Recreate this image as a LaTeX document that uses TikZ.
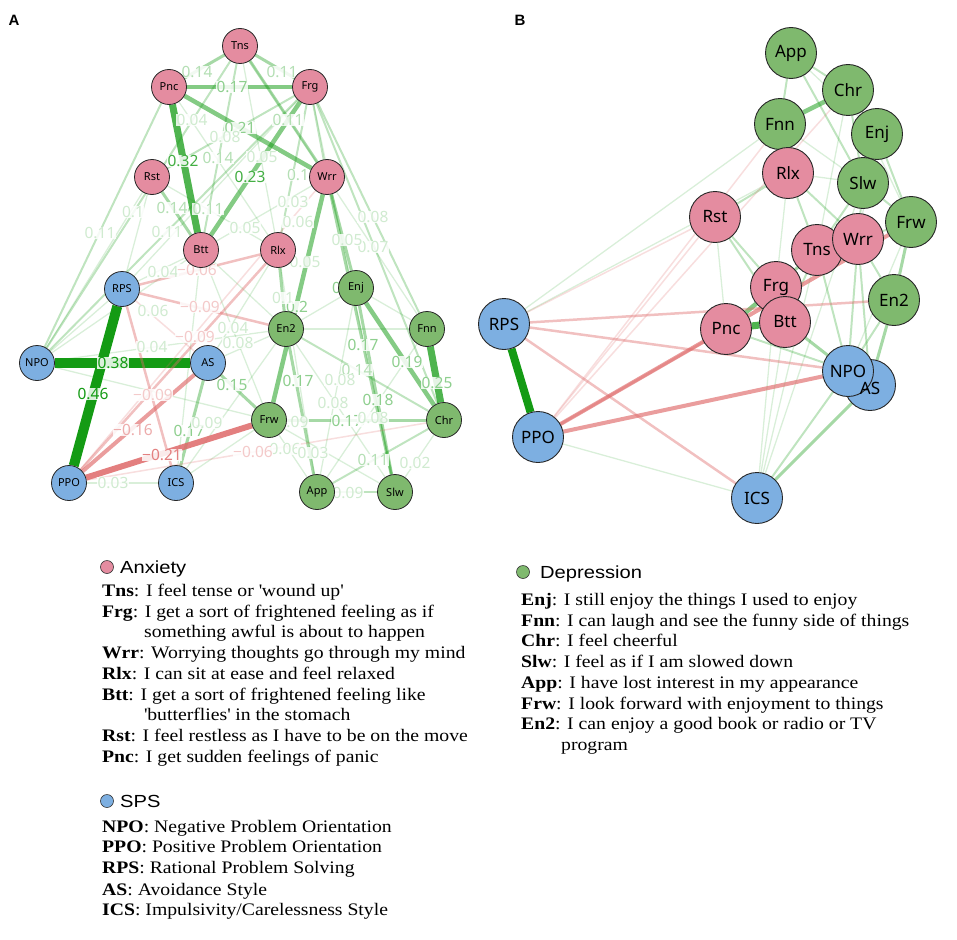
\documentclass[tikz,border=0pt]{standalone}
\usepackage{fontspec}
\setmainfont{Liberation Serif}
\newfontfamily\legserif[FakeStretch=1.12]{Liberation Serif}
\newfontfamily\legsans[FakeStretch=1.15]{Liberation Sans}
\newfontfamily\nodefont{Noto Sans}
\newfontfamily\panelfont{Liberation Sans}
\definecolor{pinkN}{RGB}{228,140,160}
\definecolor{blueN}{RGB}{125,175,225}
\definecolor{greenN}{RGB}{127,185,110}
\definecolor{eG}{RGB}{20,155,20}
\definecolor{eR}{RGB}{222,105,105}
\pgfdeclarelayer{edges}
\pgfdeclarelayer{labels}
\pgfsetlayers{edges,labels,main}
\tikzset{
 nA/.style={circle, draw=black!85, line width=0.8pt, minimum size=35pt, inner sep=0pt, font=\nodefont\fontsize{11}{12}\selectfont},
 nB/.style={circle, draw=black!85, line width=0.9pt, minimum size=51pt, inner sep=0pt, font=\nodefont\fontsize{17}{20}\selectfont},
 anx/.style={fill=pinkN}, sps/.style={fill=blueN}, dep/.style={fill=greenN},
 g1/.style={draw=eG, draw opacity=0.16, line width=1.3pt},
 g2/.style={draw=eG, draw opacity=0.27, line width=2pt},
 g3/.style={draw=eG, draw opacity=0.38, line width=3pt},
 g4/.style={draw=eG, draw opacity=0.52, line width=4.5pt},
 g5/.style={draw=eG, draw opacity=0.75, line width=7pt},
 g6/.style={draw=eG, line width=10pt},
 r1/.style={draw=eR, draw opacity=0.22, line width=1.5pt},
 r2/.style={draw=eR, draw opacity=0.42, line width=2.5pt},
 r3/.style={draw=eR, draw opacity=0.65, line width=4pt},
 r4/.style={draw=eR, draw opacity=0.85, line width=6pt},
 lab/.style={font=\nodefont\fontsize{15.5}{16}\selectfont, fill=white, fill opacity=0.85, text opacity=1, inner sep=0.3pt},
 l1/.style={lab, text=eG!20},
 l2/.style={lab, text=eG!32},
 l3/.style={lab, text=eG!48},
 l4/.style={lab, text=eG!80},
 l5/.style={lab, text=eG},
 lr1/.style={lab, text=eR!35},
 lr2/.style={lab, text=eR!55},
 lr3/.style={lab, text=eR!85},
 legtxt/.style={anchor=base west, inner sep=0pt, font=\legserif\fontsize{17.6}{20}\selectfont},
 leghead/.style={anchor=base west, inner sep=0pt, font=\legsans\fontsize{17.5}{20}\selectfont},
 legdot/.style={circle, draw=black!80, line width=0.6pt, minimum size=13pt, inner sep=0pt},
 panel/.style={font=\panelfont\bfseries\fontsize{15}{16}\selectfont, inner sep=0pt}
}
\begin{document}
\begin{tikzpicture}[x=1pt,y=-1pt]
\useasboundingbox (0,0) rectangle (957,939);
\node[panel] (pA) at (14,20) {A};
\node[panel] (pB) at (520,20) {B};
% ---------------- Panel A nodes ----------------
\node[nA,anx] (Tns) at (240,46) {Tns};
\node[nA,anx] (Pnc) at (169,87) {Pnc};
\node[nA,anx] (Frg) at (310,87) {Frg};
\node[nA,anx] (Rst) at (152,177) {Rst};
\node[nA,anx] (Wrr) at (327,177) {Wrr};
\node[nA,anx] (Btt) at (201,250) {Btt};
\node[nA,anx] (Rlx) at (278,250) {Rlx};
\node[nA,sps] (RPS) at (122,289) {RPS};
\node[nA,dep] (Enj) at (356,288) {Enj};
\node[nA,dep] (En2) at (286,329) {En2};
\node[nA,dep] (Fnn) at (427,329) {Fnn};
\node[nA,sps] (NPO) at (37,363) {NPO};
\node[nA,sps] (AS) at (208,363) {AS};
\node[nA,dep] (Frw) at (269,420) {Frw};
\node[nA,dep] (Chr) at (444,420) {Chr};
\node[nA,sps] (PPO) at (69,483) {PPO};
\node[nA,sps] (ICS) at (176,483) {ICS};
\node[nA,dep] (App) at (317,492) {App};
\node[nA,dep] (Slw) at (395,492) {Slw};
\begin{pgfonlayer}{edges}
\draw[g3] (Tns) -- (Pnc);
\draw[g3] (Tns) -- (Frg);
\draw[g4] (Pnc) -- (Frg);
\draw[g4] (Pnc) -- (Wrr);
\draw[g5] (Pnc) -- (Btt);
\draw[g4] (Frg) -- (Btt);
\draw[g3] (Tns) -- (Wrr);
\draw[g2] (Tns) -- (Btt);
\draw[g1] (Pnc) -- (Rlx);
\draw[g2] (Frg) -- (Rst);
\draw[g1] (Tns) -- (Rlx);
\draw[g2] (Frg) -- (Rlx);
\draw[g3] (Rst) -- (Btt);
\draw[g1] (Wrr) -- (Btt);
\draw[g2] (Frg) -- (Wrr);
\draw[g1] (Rst) -- (Rlx);
\draw[g2] (NPO) -- (Pnc);
\draw[g2] (NPO) -- (Tns);
\draw[g2] (NPO) -- (Frg);
\draw[g1] (NPO) -- (Rst);
\draw[g1] (NPO) -- (Btt);
\draw[g1] (RPS) -- (Rst);
\draw[g1] (RPS) -- (Btt);
\draw[g1] (RPS) -- (Frg);
\draw[g4] (Wrr) -- (Frw);
\draw[g3] (Wrr) -- (Slw);
\draw[g3] (Wrr) -- (Enj);
\draw[g2] (Frg) -- (Fnn);
\draw[g2] (Frg) -- (Chr);
\draw[g1] (Frg) -- (Slw);
\draw[g1] (Tns) -- (Fnn);
\draw[g3] (Rlx) -- (En2);
\draw[g1] (Rlx) -- (App);
\draw[g1] (Btt) -- (En2);
\draw[g1] (Btt) -- (Frw);
\draw[g1] (Btt) -- (ICS);
\draw[g4] (Enj) -- (Chr);
\draw[g5] (Fnn) -- (Chr);
\draw[g3] (Enj) -- (Slw);
\draw[g3] (Frw) -- (Chr);
\draw[g3] (En2) -- (App);
\draw[g2] (App) -- (Slw);
\draw[g2] (En2) -- (Chr);
\draw[g1] (Enj) -- (App);
\draw[g1] (En2) -- (Slw);
\draw[g1] (Fnn) -- (App);
\draw[g2] (Chr) -- (App);
\draw[g1] (Chr) -- (Slw);
\draw[g1] (Frw) -- (Slw);
\draw[g1] (Frw) -- (App);
\draw[g1] (En2) -- (Fnn);
\draw[g1] (Enj) -- (En2);
\draw[g1] (Enj) -- (Fnn);
\draw[g6] (NPO) -- (AS);
\draw[g6] (RPS) -- (PPO);
\draw[g3] (AS) -- (Frw);
\draw[g3] (AS) -- (ICS);
\draw[g1] (NPO) -- (RPS);
\draw[g1] (NPO) -- (Frw);
\draw[g1] (NPO) -- (En2);
\draw[g1] (AS) -- (En2);
\draw[g1] (ICS) -- (Frw);
\draw[g1] (ICS) -- (En2);
\draw[g1] (PPO) -- (ICS);
\draw[g1] (AS) -- (Rlx);
\draw[r4] (PPO) -- (Frw);
\draw[r3] (PPO) -- (AS);
\draw[r2] (PPO) -- (Rlx);
\draw[r2] (RPS) -- (ICS);
\draw[r2] (RPS) -- (En2);
\draw[r2] (RPS) -- (Rlx);
\draw[r1] (PPO) -- (Chr);
\draw[r1] (PPO) -- (Wrr);
\draw[r1] (RPS) -- (AS);
\end{pgfonlayer}
\begin{pgfonlayer}{labels}
\node[l5] (a1) at (113,363) {0.38};
\node[l5] (a2) at (93,394) {0.46};
\node[l4] (a3) at (183,161) {0.32};
\node[l4] (a4) at (250,177) {0.23};
\node[l3] (a5) at (240,128) {0.21};
\node[l3] (a6) at (437,383) {0.25};
\node[l3] (a7) at (297,307) {0.2};
\node[l3] (a8) at (232,87) {0.17};
\node[l3] (a9) at (407,362) {0.19};
\node[l3] (a10) at (363,345) {0.17};
\node[l3] (a11) at (378,400) {0.18};
\node[l3] (a12) at (298,381) {0.17};
\node[l3] (a13) at (232,385) {0.15};
\node[l3] (a14) at (189,431) {0.17};
\node[l3] (a15) at (347,421) {0.17};
\node[l2] (a16) at (357,370) {0.14};
\node[l2] (a17) at (197,72) {0.14};
\node[l2] (a18) at (282,72) {0.11};
\node[l2] (a19) at (288,120) {0.11};
\node[l2] (a20) at (218,158) {0.14};
\node[l2] (a21) at (172,208) {0.14};
\node[l2] (a22) at (208,209) {0.11};
\node[l2] (a23) at (298,175) {0.1};
\node[l1] (a24) at (133,212) {0.1};
\node[l1] (a25) at (100,233) {0.11};
\node[l1] (a26) at (167,232) {0.11};
\node[l1] (a27) at (373,217) {0.08};
\node[l1] (a28) at (373,247) {0.07};
\node[l1] (a29) at (347,240) {0.05};
\node[l2] (a30) at (373,460) {0.11};
\node[l1] (a31) at (348,493) {0.09};
\node[l1] (a32) at (340,380) {0.08};
\node[l1] (a33) at (333,403) {0.08};
\node[l1] (a34) at (373,418) {0.08};
\node[l1] (a35) at (415,463) {0.02};
\node[l1] (a36) at (285,449) {0.06};
\node[l1] (a37) at (313,453) {0.03};
\node[l1] (a38) at (293,422) {0.09};
\node[l1] (a39) at (283,298) {0.1};
\node[l1] (a40) at (192,120) {0.04};
\node[l1] (a41) at (225,137) {0.08};
\node[l1] (a42) at (262,157) {0.05};
\node[l1] (a43) at (293,202) {0.03};
\node[l1] (a44) at (298,222) {0.06};
\node[l1] (a45) at (245,228) {0.05};
\node[l1] (a46) at (153,311) {0.06};
\node[l1] (a47) at (152,347) {0.04};
\node[l1] (a48) at (233,328) {0.04};
\node[l1] (a49) at (238,343) {0.08};
\node[l1] (a50) at (207,423) {0.09};
\node[l1] (a51) at (113,483) {0.03};
\node[l1] (a52) at (305,262) {0.05};
\node[l1] (a53) at (163,272) {0.04};
\node[l3] (a54) at (343,288) {0.1};
\node[lr3] (a55) at (162,455) {−0.21};
\node[lr2] (a56) at (133,430) {−0.16};
\node[lr1] (a57) at (153,395) {−0.09};
\node[lr1] (a58) at (200,307) {−0.09};
\node[lr1] (a59) at (195,337) {−0.09};
\node[lr1] (a60) at (253,452) {−0.06};
\node[lr1] (a61) at (197,270) {−0.06};
\end{pgfonlayer}
% ---------------- Panel B nodes ----------------
\node[nB,dep] (bApp) at (791,53) {App};
\node[nB,dep] (bChr) at (848,90) {Chr};
\node[nB,dep] (bFnn) at (780,124) {Fnn};
\node[nB,dep] (bEnj) at (877,134) {Enj};
\node[nB,anx] (bRlx) at (788,173) {Rlx};
\node[nB,dep] (bSlw) at (863,183) {Slw};
\node[nB,anx] (bRst) at (715,217) {Rst};
\node[nB,dep] (bFrw) at (911,222) {Frw};
\node[nB,anx] (bTns) at (817,250) {Tns};
\node[nB,anx] (bWrr) at (858,239) {Wrr};
\node[nB,anx] (bFrg) at (776,287) {Frg};
\node[nB,dep] (bEn2) at (894,300) {En2};
\node[nB,anx] (bPnc) at (726,329) {Pnc};
\node[nB,anx] (bBtt) at (785,322) {Btt};
\node[nB,sps] (bRPS) at (504,324) {RPS};
\node[nB,sps] (bAS) at (870,385) {};
\node[nB,sps] (bNPO) at (848,371) {NPO};
\node[font=\nodefont\fontsize{17}{20}\selectfont, inner sep=0pt] (bASt) at (870,388) {AS};
\node[nB,sps] (bPPO) at (538,437) {PPO};
\node[nB,sps] (bICS) at (757,498) {ICS};
\begin{pgfonlayer}{edges}
\draw[g6, line width=8pt] (bRPS) -- (bPPO);
\draw[g4] (bChr) -- (bFnn);
\draw[g2] (bApp) -- (bChr);
\draw[g2] (bApp) -- (bFnn);
\draw[g2] (bApp) -- (bSlw);
\draw[g1] (bApp) -- (bEnj);
\draw[g2] (bChr) -- (bEnj);
\draw[g2] (bChr) -- (bSlw);
\draw[g1] (bChr) -- (bFrw);
\draw[g1] (bChr) -- (bTns);
\draw[g2] (bEnj) -- (bSlw);
\draw[g2] (bEnj) -- (bFrw);
\draw[g1] (bEnj) -- (bWrr);
\draw[g1] (bFnn) -- (bRlx);
\draw[g1] (bFnn) -- (bSlw);
\draw[g2] (bSlw) -- (bWrr);
\draw[g2] (bSlw) -- (bFrw);
\draw[g2] (bSlw) -- (bTns);
\draw[g1] (bSlw) -- (bRlx);
\draw[g2] (bFrw) -- (bWrr);
\draw[g3] (bFrw) -- (bEn2);
\draw[g1] (bFrw) -- (bNPO);
\draw[g2] (bRlx) -- (bRst);
\draw[g2] (bRlx) -- (bTns);
\draw[g2] (bRlx) -- (bWrr);
\draw[g1] (bRlx) -- (bFrg);
\draw[g2] (bRst) -- (bFrg);
\draw[g2] (bRst) -- (bBtt);
\draw[g1] (bRst) -- (bPnc);
\draw[g3] (bTns) -- (bWrr);
\draw[g3] (bTns) -- (bFrg);
\draw[g2] (bTns) -- (bBtt);
\draw[g2] (bTns) -- (bNPO);
\draw[g4] (bFrg) -- (bBtt);
\draw[g4] (bFrg) -- (bPnc);
\draw[g5] (bPnc) -- (bBtt);
\draw[g2] (bWrr) -- (bNPO);
\draw[g2] (bWrr) -- (bEn2);
\draw[g2] (bWrr) -- (bAS);
\draw[g3] (bBtt) -- (bNPO);
\draw[g2] (bPnc) -- (bNPO);
\draw[g3] (bEn2) -- (bAS);
\draw[g2] (bEn2) -- (bNPO);
\draw[g3] (bICS) -- (bAS);
\draw[g2] (bICS) -- (bNPO);
\draw[g1] (bICS) -- (bTns);
\draw[g1] (bICS) -- (bBtt);
\draw[g1] (bICS) -- (bFrg);
\draw[g1] (bICS) -- (bSlw);
\draw[g3] (bNPO) -- (bAS);
\draw[g1] (bRPS) -- (bRlx);
\draw[g1] (bRPS) -- (bFnn);
\draw[g1] (bPPO) -- (bICS);
\draw[r3] (bPPO) -- (bFrw);
\draw[r3] (bPPO) -- (bNPO);
\draw[r2] (bPPO) -- (bPnc);
\draw[r2] (bRPS) -- (bEn2);
\draw[r2] (bRPS) -- (bNPO);
\draw[r2] (bRPS) -- (bICS);
\draw[r1] (bRPS) -- (bRst);
\draw[r1] (bPPO) -- (bRst);
\draw[r1] (bPPO) -- (bFnn);
\draw[r1] (bPPO) -- (bChr);
\end{pgfonlayer}
% ---------------- Legends ----------------
\node[legdot, fill=pinkN] (dA) at (107,567) {};
\node[leghead] (hA) at (120,573) {Anxiety};
\node[legtxt] (t1) at (102,596) {\textbf{Tns}: I feel tense or \textquotesingle wound up\textquotesingle};
\node[legtxt] (t2) at (102,617) {\textbf{Frg}: I get a sort of frightened feeling as if};
\node[legtxt] (t2b) at (144,637) {something awful is about to happen};
\node[legtxt] (t3) at (102,658) {\textbf{Wrr}: Worrying thoughts go through my mind};
\node[legtxt] (t4) at (102,679) {\textbf{Rlx}: I can sit at ease and feel relaxed};
\node[legtxt] (t5) at (102,700) {\textbf{Btt}: I get a sort of frightened feeling like};
\node[legtxt] (t5b) at (144,720) {\textquotesingle butterflies\textquotesingle\ in the stomach};
\node[legtxt] (t6) at (102,741) {\textbf{Rst}: I feel restless as I have to be on the move};
\node[legtxt] (t7) at (102,762) {\textbf{Pnc}: I get sudden feelings of panic};
\node[legdot, fill=blueN] (dS) at (107,801) {};
\node[leghead] (hS) at (120,807) {SPS};
\node[legtxt] (s1) at (102,832) {\textbf{NPO}: Negative Problem Orientation};
\node[legtxt] (s2) at (102,852) {\textbf{PPO}: Positive Problem Orientation};
\node[legtxt] (s3) at (102,873) {\textbf{RPS}: Rational Problem Solving};
\node[legtxt] (s4) at (102,895) {\textbf{AS}: Avoidance Style};
\node[legtxt] (s5) at (102,915) {\textbf{ICS}: Impulsivity/Carelessness Style};
\node[legdot, fill=greenN] (dD) at (523,572) {};
\node[leghead] (hD) at (540,578) {Depression};
\node[legtxt] (d1) at (521,605) {\textbf{Enj}: I still enjoy the things I used to enjoy};
\node[legtxt] (d2) at (521,626) {\textbf{Fnn}: I can laugh and see the funny side of things};
\node[legtxt] (d3) at (521,646) {\textbf{Chr}: I feel cheerful};
\node[legtxt] (d4) at (521,667) {\textbf{Slw}: I feel as if I am slowed down};
\node[legtxt] (d5) at (521,688) {\textbf{App}: I have lost interest in my appearance};
\node[legtxt] (d6) at (521,709) {\textbf{Frw}: I look forward with enjoyment to things};
\node[legtxt] (d7) at (521,729) {\textbf{En2}: I can enjoy a good book or radio or TV};
\node[legtxt] (d7b) at (561,750) {program};
\end{tikzpicture}
\end{document}
